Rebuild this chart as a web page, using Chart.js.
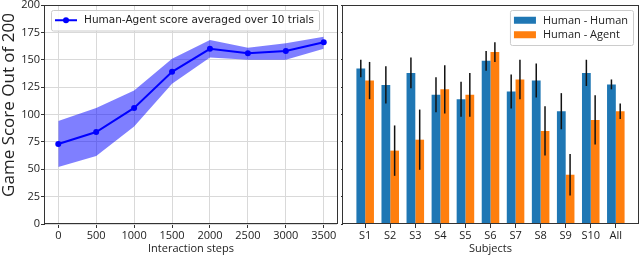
<!DOCTYPE html>
<html>
<head>
<meta charset="utf-8">
<script src="https://cdn.jsdelivr.net/npm/chart.js@4.4.1/dist/chart.umd.min.js"></script>
<style>
  html, body { margin: 0; padding: 0; background: #fff; }
  #wrap { position: relative; width: 640px; height: 256px; overflow: hidden; }
  #steps { position: absolute; left: 0; top: 0; }
  #subjects { position: absolute; left: 341px; top: 0; }
</style>
</head>
<body>
<div id="wrap">
  <canvas id="steps" width="341" height="256"></canvas>
  <canvas id="subjects" width="299" height="256"></canvas>
</div>
<script>
// ---- values ----
const steps = [0, 500, 1000, 1500, 2000, 2500, 3000, 3500];
const scoreMean = [73, 84, 106, 139, 160, 156, 158, 166];
const scoreUpper = [94, 106, 122, 151, 168, 161, 165, 171];
const scoreLower = [52, 62, 89, 128, 152, 150, 150, 160];

const subjects = ['S1', 'S2', 'S3', 'S4', 'S5', 'S6', 'S7', 'S8', 'S9', 'S10', 'All'];
const humanHuman = [142, 127, 138, 118, 114, 149, 121, 131, 103, 138, 127.5];
const humanHumanErr = [8, 17, 14, 16, 16, 9, 15.5, 15.5, 16.5, 12, 4.5];
const humanAgent = [131, 67, 77, 123, 118, 157, 132, 85, 45, 95, 103];
const humanAgentErr = [17, 23, 27.5, 22, 20, 9, 18, 22.5, 19, 22.5, 7];

const yTicks = [0, 25, 50, 75, 100, 125, 150, 175, 200];

const TEXT = '#222';
const GRID = '#d9d9d9';
const DARK = '#333';

Chart.defaults.font.family = 'Open Sans';
Chart.defaults.font.size = 11;
Chart.defaults.color = TEXT;
Chart.defaults.animation = false;

// black frame round the plot area (matplotlib spines)
const frame = {
    id: 'frame',
    afterDatasetsDraw(chart) {
        const { ctx, chartArea: a } = chart;
        ctx.save();
        ctx.strokeStyle = DARK;
        ctx.lineWidth = 1;
        ctx.strokeRect(Math.floor(a.left) - 0.5, Math.floor(a.top) + 0.5,
            Math.round(a.right - a.left) + 1, Math.round(a.bottom - a.top) - 1);
        ctx.restore();
    }
};

// legend box drawn inside the plot area
const boxLegend = {
    id: 'boxLegend',
    afterDraw(chart, args, opts) {
        const { ctx, chartArea: a } = chart;
        const items = chart.data.datasets.filter(d => d.label);
        const rowH = 14.5, pad = 4, mark = 22, gap = 7;
        ctx.save();
        ctx.font = opts.font;
        const textW = Math.max(...items.map(d => ctx.measureText(d.label).width));
        const w = pad + mark + gap + textW + pad + 1;
        const h = items.length * rowH + 6;
        const x = opts.align === 'right' ? a.right - 5 - w : a.left + 6;
        const y = a.top + 5;
        ctx.fillStyle = 'rgba(255,255,255,0.85)';
        ctx.strokeStyle = '#cccccc';
        ctx.lineWidth = 1;
        ctx.beginPath();
        if (ctx.roundRect) ctx.roundRect(x + 0.5, y + 0.5, w, h, 2);
        else ctx.rect(x + 0.5, y + 0.5, w, h);
        ctx.fill();
        ctx.stroke();
        items.forEach((d, i) => {
            const cy = y + 3 + rowH * i + rowH / 2;
            const mx = x + pad;
            if (opts.kind === 'line') {
                ctx.strokeStyle = d.borderColor;
                ctx.lineWidth = 2;
                ctx.beginPath();
                ctx.moveTo(mx, cy);
                ctx.lineTo(mx + mark, cy);
                ctx.stroke();
                ctx.fillStyle = d.borderColor;
                ctx.beginPath();
                ctx.arc(mx + mark / 2, cy, 3, 0, Math.PI * 2);
                ctx.fill();
            } else {
                ctx.fillStyle = d.backgroundColor;
                ctx.fillRect(mx, cy - 3.5, mark, 7);
            }
            ctx.fillStyle = TEXT;
            ctx.textBaseline = 'middle';
            ctx.textAlign = 'left';
            ctx.fillText(d.label, mx + mark + gap, cy + 0.5);
        });
        ctx.restore();
    }
};

// rotated y title, placed as in the figure
const yTitle = {
    id: 'yTitle',
    afterDraw(chart, args, opts) {
        const { ctx } = chart;
        ctx.save();
        ctx.translate(opts.x, opts.y);
        ctx.rotate(-Math.PI / 2);
        ctx.font = opts.font;
        ctx.fillStyle = TEXT;
        ctx.textAlign = 'center';
        ctx.textBaseline = 'middle';
        ctx.fillText(opts.text, 0, 0);
        ctx.restore();
    }
};

// vertical error bars, no caps
const errorBars = {
    id: 'errorBars',
    afterDatasetsDraw(chart) {
        const { ctx } = chart;
        const yScale = chart.scales.y;
        ctx.save();
        ctx.strokeStyle = '#111';
        ctx.lineWidth = 1.5;
        chart.data.datasets.forEach((ds, di) => {
            chart.getDatasetMeta(di).data.forEach((bar, i) => {
                const v = ds.data[i].y, e = ds.errors[i];
                ctx.beginPath();
                ctx.moveTo(bar.x, yScale.getPixelForValue(v + e));
                ctx.lineTo(bar.x, yScale.getPixelForValue(v - e));
                ctx.stroke();
            });
        });
        ctx.restore();
    }
};

const setTicks = values => axis => { axis.ticks = values.map(v => ({ value: v })); };

// ---- left: score vs interaction steps ----
new Chart(document.getElementById('steps'), {
    type: 'line',
    data: {
        datasets: [
            {
                label: 'Human-Agent score averaged over 10 trials',
                data: steps.map((s, i) => ({ x: s, y: scoreMean[i] })),
                borderColor: '#0000ff',
                backgroundColor: '#0000ff',
                borderWidth: 2,
                pointRadius: 3,
                pointBorderWidth: 0,
                tension: 0
            },
            {
                data: steps.map((s, i) => ({ x: s, y: scoreUpper[i] })),
                borderWidth: 0,
                pointRadius: 0,
                backgroundColor: 'rgba(0,0,255,0.5)',
                fill: '+1'
            },
            {
                data: steps.map((s, i) => ({ x: s, y: scoreLower[i] })),
                borderWidth: 0,
                pointRadius: 0,
                fill: false
            }
        ]
    },
    options: {
        responsive: false,
        devicePixelRatio: 1,
        layout: { padding: { top: 5, right: 1, left: 0, bottom: 0 } },
        plugins: {
            legend: { display: false },
            tooltip: { enabled: false },
            boxLegend: { font: '10.5px "DejaVu Sans"', kind: 'line', align: 'left' },
            yTitle: { text: 'Game Score Out of 200', font: '17px "Open Sans"', x: 9, y: 105 }
        },
        scales: {
            x: {
                type: 'linear',
                min: -175,
                max: 3675,
                afterBuildTicks: setTicks(steps),
                afterFit: s => { s.height = 32; s.paddingLeft = 0; s.paddingRight = 0; },
                ticks: { padding: 1, maxRotation: 0, autoSkip: false, callback: v => String(v) },
                grid: { color: GRID, tickColor: DARK, tickLength: 4 },
                border: { display: false },
                title: { display: true, text: 'Interaction steps', padding: { top: 0, bottom: 1 } }
            },
            y: {
                min: 0,
                max: 200,
                afterBuildTicks: setTicks(yTicks),
                afterFit: s => { s.width = 45; s.paddingTop = 0; s.paddingBottom = 0; },
                ticks: { padding: 1, callback: v => String(v) },
                grid: { color: GRID, tickColor: DARK, tickLength: 4 },
                border: { display: false }
            }
        }
    },
    plugins: [frame, boxLegend, yTitle]
});

// ---- right: scores per subject ----
new Chart(document.getElementById('subjects'), {
    type: 'bar',
    data: {
        datasets: [
            {
                label: 'Human - Human',
                data: humanHuman.map((v, i) => ({ x: i, y: v })),
                errors: humanHumanErr,
                backgroundColor: '#1f77b4'
            },
            {
                label: 'Human - Agent',
                data: humanAgent.map((v, i) => ({ x: i, y: v })),
                errors: humanAgentErr,
                backgroundColor: '#ff7f0e'
            }
        ]
    },
    options: {
        responsive: false,
        devicePixelRatio: 1,
        categoryPercentage: 0.7,
        barPercentage: 1.0,
        layout: { padding: { top: 5, right: 2, left: 0, bottom: 0 } },
        plugins: {
            legend: { display: false },
            tooltip: { enabled: false },
            boxLegend: { font: '11px "Open Sans"', kind: 'box', align: 'right' }
        },
        scales: {
            x: {
                type: 'linear',
                offset: false,
                min: -0.885,
                max: 10.885,
                afterBuildTicks: setTicks(subjects.map((s, i) => i)),
                afterFit: s => { s.height = 32; s.paddingLeft = 0; s.paddingRight = 0; },
                ticks: { padding: 1, maxRotation: 0, autoSkip: false, callback: v => subjects[v] },
                grid: { offset: false, drawOnChartArea: false, tickColor: DARK, tickLength: 4 },
                border: { display: false },
                title: { display: true, text: 'Subjects', padding: { top: 0, bottom: 1 } }
            },
            y: {
                min: 0,
                max: 200,
                afterBuildTicks: setTicks(yTicks),
                afterFit: s => { s.width = 2; s.paddingTop = 0; s.paddingBottom = 0; },
                ticks: { display: false },
                grid: { drawOnChartArea: false, tickColor: DARK, tickLength: 3 },
                border: { display: false }
            }
        }
    },
    plugins: [errorBars, frame, boxLegend]
});
</script>
</body>
</html>
